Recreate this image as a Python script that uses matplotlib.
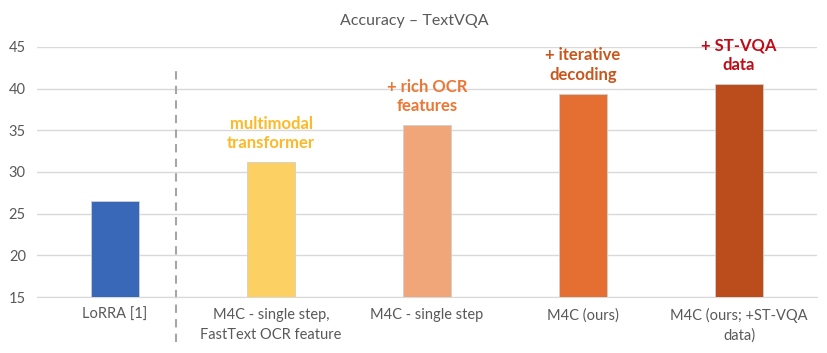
import matplotlib.pyplot as plt

# Chart data
categories = [
    "LoRRA [1]",
    "M4C - single step,\nFastText OCR feature",
    "M4C - single step",
    "M4C (ours)",
    "M4C (ours; +ST-VQA\ndata)",
]
accuracy = [26.56, 31.2, 35.6, 39.4, 40.55]
notes = ["", "multimodal\ntransformer", "+ rich OCR\nfeatures", "+ iterative\ndecoding", "+ ST-VQA\ndata"]
y_ticks = [15, 20, 25, 30, 35, 40, 45]

bar_colors = ["#3A68B9", "#FDD063", "#F0A679", "#E56F33", "#BB4C1B"]
note_colors = ["#000000", "#FDB927", "#EC7634", "#C9561D", "#BE0B16"]

plt.rcParams["font.family"] = ["Lato", "DejaVu Sans"]

fig = plt.figure(figsize=(8.28, 3.53), dpi=100)
ax = fig.add_axes([0.0447, 0.1586, 0.942, 0.7083])

x = range(len(categories))
bars = ax.bar(x, accuracy, width=0.31, color=bar_colors,
              edgecolor="#D0D0D0", linewidth=0.6, zorder=3)

# Annotations above bars
for i, (val, note) in enumerate(zip(accuracy, notes)):
    if note:
        ax.annotate(note, (i, val), xytext=(0, 8), textcoords="offset points",
                    ha="center", va="bottom", fontsize=12, fontweight="bold",
                    color=note_colors[i], linespacing=1.25)

# Dashed separator after the baseline
ax.plot([0.39, 0.39], [-0.18, 0.92], transform=ax.get_xaxis_transform(),
        color="#A6A6A6", linestyle=(0, (4, 3)), linewidth=1.5, clip_on=False)

ax.set_ylim(15, 45)
ax.set_xlim(-0.5, len(categories) - 0.5)
ax.set_yticks(y_ticks)
ax.set_xticks(list(x))
ax.set_xticklabels(categories, fontsize=10.5, color="#595959", linespacing=1.5)
ax.tick_params(axis="y", labelsize=10.5, labelcolor="#595959", length=0, pad=8)
ax.tick_params(axis="x", length=0, pad=8)
ax.yaxis.grid(True, color="#D9D9D9", linewidth=1, zorder=0)
ax.set_axisbelow(True)
for side in ["left", "right", "top"]:
    ax.spines[side].set_visible(False)
ax.spines["bottom"].set_color("#D9D9D9")

fig.text(0.5, 0.94, "Accuracy \u2013 TextVQA", ha="center", va="center",
         fontsize=11.5, color="#595959")

plt.savefig("out.png", dpi=100)
